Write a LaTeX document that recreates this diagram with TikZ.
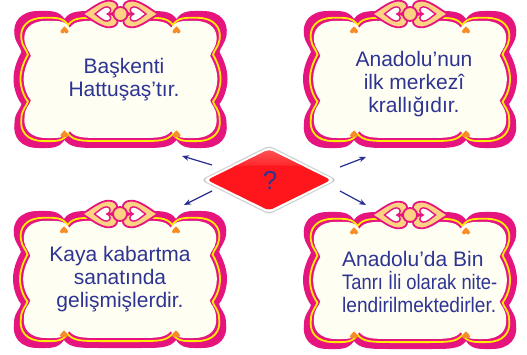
\documentclass[tikz,border=0pt]{standalone}
\usepackage{fontspec}
\usepackage{graphicx}
\setmainfont{Liberation Sans}
\usetikzlibrary{arrows.meta}
\definecolor{fpink}{RGB}{229,20,127}
\definecolor{fyel}{RGB}{255,236,0}
\definecolor{fcream}{RGB}{255,254,242}
\definecolor{forange}{RGB}{247,140,40}
\definecolor{fbow}{RGB}{253,210,130}
\definecolor{ftext}{RGB}{46,52,146}
\definecolor{farrow}{RGB}{40,45,145}
\definecolor{dred}{RGB}{255,22,28}
\definecolor{lred}{RGB}{255,95,95}
\tikzset{
  fpath/.style={insert path={
    (-20,68) -- (20,68)
    .. controls (40,68) and (50,69) .. (56,60)
    .. controls (62,69) and (70,68) .. (82,68)
    .. controls (100,68) and (108,57) .. (106,44)
    .. controls (105,36) and (100,32) .. (99,27)
    .. controls (103,20) and (107,10) .. (107,0)
    .. controls (107,-10) and (103,-20) .. (99,-25)
    .. controls (100,-30) and (106,-34) .. (106,-44)
    .. controls (108,-58) and (100,-69) .. (82,-69)
    .. controls (70,-69) and (62,-70) .. (56,-61)
    .. controls (50,-69) and (40,-69) .. (20,-69)
    -- (-20,-69)
    .. controls (-40,-69) and (-50,-69) .. (-56,-61)
    .. controls (-62,-70) and (-70,-69) .. (-82,-69)
    .. controls (-100,-69) and (-108,-58) .. (-106,-44)
    .. controls (-106,-34) and (-100,-30) .. (-99,-25)
    .. controls (-103,-20) and (-107,-10) .. (-107,0)
    .. controls (-107,10) and (-103,20) .. (-99,27)
    .. controls (-100,32) and (-105,36) .. (-106,44)
    .. controls (-108,57) and (-100,68) .. (-82,68)
    .. controls (-70,68) and (-62,69) .. (-56,60)
    .. controls (-50,69) and (-40,68) .. (-20,68) -- cycle}},
  uheart/.style={insert path={
    (0,0.45) .. controls (0.15,0.95) and (0.9,1.0) .. (0.95,0.45)
    .. controls (1.0,0) and (0.4,-0.5) .. (0,-1)
    .. controls (-0.4,-0.5) and (-1,0) .. (-0.95,0.45)
    .. controls (-0.9,1.0) and (-0.15,0.95) .. (0,0.45) -- cycle}},
  pics/fheart/.style={code={
    \fill[forange] (0,1.5) .. controls (0,4) and (-4,4) .. (-4,1.2)
      .. controls (-4,-0.8) and (-1,-2) .. (0,-3.5)
      .. controls (1,-2) and (4,-0.8) .. (4,1.2)
      .. controls (4,4) and (0,4) .. (0,1.5) -- cycle;}},
  txt/.style={font=\fontsize{21}{23}\selectfont, text=ftext, align=center, inner sep=0pt},
  arr/.style={draw=farrow, line width=1.2pt, -{Stealth[length=7pt,width=5.5pt]}},
  bowline/.style={fill=fbow, draw=fpink, line width=1.8pt},
  wheart/.style={fill=white, draw=fpink, line width=1.4pt}
}
\newcommand\fframe[2]{%
  \begin{scope}[shift={(#1,#2)},yscale=-1]
    \fill[fpink] [fpath];
    \begin{scope}[xscale=0.935,yscale=0.9]
      \draw[fyel,line width=1.8pt] [fpath];
    \end{scope}
    \begin{scope}[xscale=0.905,yscale=0.855]
      \fill[fcream] [fpath];
    \end{scope}
    \pic at (-56,49) {fheart};
    \pic at (56,49) {fheart};
    \pic at (-56,-55) {fheart};
    \pic at (56,-55) {fheart};
    \begin{scope}[shift={(-19,65)},rotate=90,xscale=14,yscale=19]
      \path[bowline] [uheart];
    \end{scope}
    \begin{scope}[shift={(19,65)},rotate=-90,xscale=14,yscale=19]
      \path[bowline] [uheart];
    \end{scope}
    \begin{scope}[shift={(-17,65)},rotate=90,xscale=7.5,yscale=8.5]
      \path[wheart] [uheart];
    \end{scope}
    \begin{scope}[shift={(17,65)},rotate=-90,xscale=7.5,yscale=8.5]
      \path[wheart] [uheart];
    \end{scope}
    \path[bowline] (0,65) circle (7);
  \end{scope}}
\begin{document}
\begin{tikzpicture}[x=1pt,y=-1pt]
\useasboundingbox (0,0) rectangle (527,355);
\fill[white] (0,0) rectangle (527,355);
% frames
\fframe{120.5}{79}
\fframe{410}{79}
\fframe{120}{279}
\fframe{410}{280}
% texts
\node[txt] (t1) at (124,80) {Başkenti\\Hattuşaş’tır.};
\node[txt] (t2) at (414,84) {Anadolu’nun\\ilk merkezî\\krallığıdır.};
\node[txt] (t3) at (120,279) {Kaya kabartma\\sanatında\\gelişmişlerdir.};
\node[txt, align=left, anchor=west] (t4) at (342,282) {Anadolu’da Bin\\\scalebox{0.874}[1]{Tanrı İli olarak nite-}\\\scalebox{0.91}[1]{lendirilmektedirler.}};
% diamond
\fill[gray!40, rounded corners=5pt] (200.5,180) -- (269,145.5) -- (337.5,180) -- (269,214.5) -- cycle;
\fill[white, rounded corners=5pt] (202.5,180) -- (269,146.8) -- (335.5,180) -- (269,213.2) -- cycle;
\begin{scope}
  \clip[rounded corners=4pt] (207,180) -- (269,149.5) -- (331,180) -- (269,210.5) -- cycle;
  \fill[dred] (200,140) rectangle (340,220);
  \shade[top color=lred, bottom color=dred] (200,145) -- (340,145) -- (340,172)
     .. controls (300,163) and (240,163) .. (200,172) -- cycle;
\end{scope}
\node[font=\fontsize{26}{26}\selectfont, text=ftext] (q) at (270,180) {?};
% arrows
\coordinate (s1) at (212,165); \coordinate (e1) at (182,156);
\coordinate (s2) at (340,167); \coordinate (e2) at (366,157);
\coordinate (s3) at (212,191); \coordinate (e3) at (184,205);
\coordinate (s4) at (340,191); \coordinate (e4) at (366,205);
\draw[arr] (s1) -- (e1);
\draw[arr] (s2) -- (e2);
\draw[arr] (s3) -- (e3);
\draw[arr] (s4) -- (e4);
\end{tikzpicture}
\end{document}
